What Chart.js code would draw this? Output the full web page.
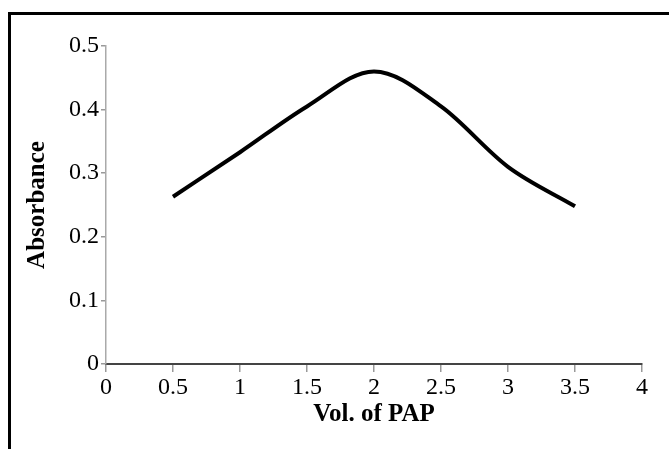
<!DOCTYPE html>
<html>
<head>
<meta charset="utf-8">
<script src="https://cdn.jsdelivr.net/npm/chart.js@4/dist/chart.umd.min.js"></script>
<style>
  html, body { margin: 0; padding: 0; background: #fff; }
  #wrap { position: relative; width: 669px; height: 449px; overflow: hidden; }
  #frame {
    position: absolute; left: 8px; top: 12px; width: 700px; height: 500px;
    border-top: 3px solid #000; border-left: 3px solid #000; box-sizing: border-box;
  }
  canvas { position: absolute; left: 0; top: 0; }
</style>
</head>
<body>
<div id="wrap">
  <div id="frame"></div>
  <canvas id="c" width="669" height="449"></canvas>
</div>
<script>
// Volume of PAP added vs. measured absorbance
const volumes = [0.5, 1, 1.5, 2, 2.5, 3, 3.5];
const absorbance = [0.263, 0.333, 0.405, 0.46, 0.405, 0.31, 0.248];
const xTicks = [0, 0.5, 1, 1.5, 2, 2.5, 3, 3.5, 4];
const yTicks = [0, 0.1, 0.2, 0.3, 0.4, 0.5];

const serif = "'Liberation Serif', 'Times New Roman', serif";

new Chart(document.getElementById('c'), {
  type: 'line',
  data: {
    datasets: [{
      data: volumes.map((v, i) => ({ x: v, y: absorbance[i] })),
      borderColor: '#000',
      borderWidth: 4,
      pointRadius: 0,
      fill: false,
      cubicInterpolationMode: 'monotone'
    }]
  },
  options: {
    responsive: false,
    animation: false,
    layout: { padding: { left: 0, right: 27, top: 46, bottom: 0 } },
    plugins: { legend: { display: false }, tooltip: { enabled: false } },
    scales: {
      x: {
        type: 'linear', min: 0, max: 4,
        afterBuildTicks: s => { s.ticks = xTicks.map(v => ({ value: v })); },
        afterFit: s => { s.height = 85; },
        border: { color: '#444', width: 2 },
        grid: { drawOnChartArea: false, tickLength: 8, color: '#999', lineWidth: 1.5 },
        ticks: { color: '#000', font: { family: serif, size: 24 }, padding: 1, maxRotation: 0,
                 callback: v => String(v) },
        title: { display: true, text: 'Vol. of PAP', color: '#000',
                 font: { family: serif, size: 25, weight: 'bold' }, padding: { top: 0, bottom: 19 } }
      },
      y: {
        type: 'linear', min: 0, max: 0.5,
        afterBuildTicks: s => { s.ticks = yTicks.map(v => ({ value: v })); },
        afterFit: s => { s.width = 106; },
        border: { color: '#aaa', width: 1.5 },
        grid: { drawOnChartArea: false, tickLength: 5, color: '#999', lineWidth: 1.5 },
        ticks: { color: '#000', font: { family: serif, size: 24 }, padding: 2,
                 callback: v => String(v) },
        title: { display: true, text: 'Absorbance', color: '#000',
                 font: { family: serif, size: 25, weight: 'bold' }, padding: { top: 23 } }
      }
    }
  }
});
</script>
</body>
</html>
